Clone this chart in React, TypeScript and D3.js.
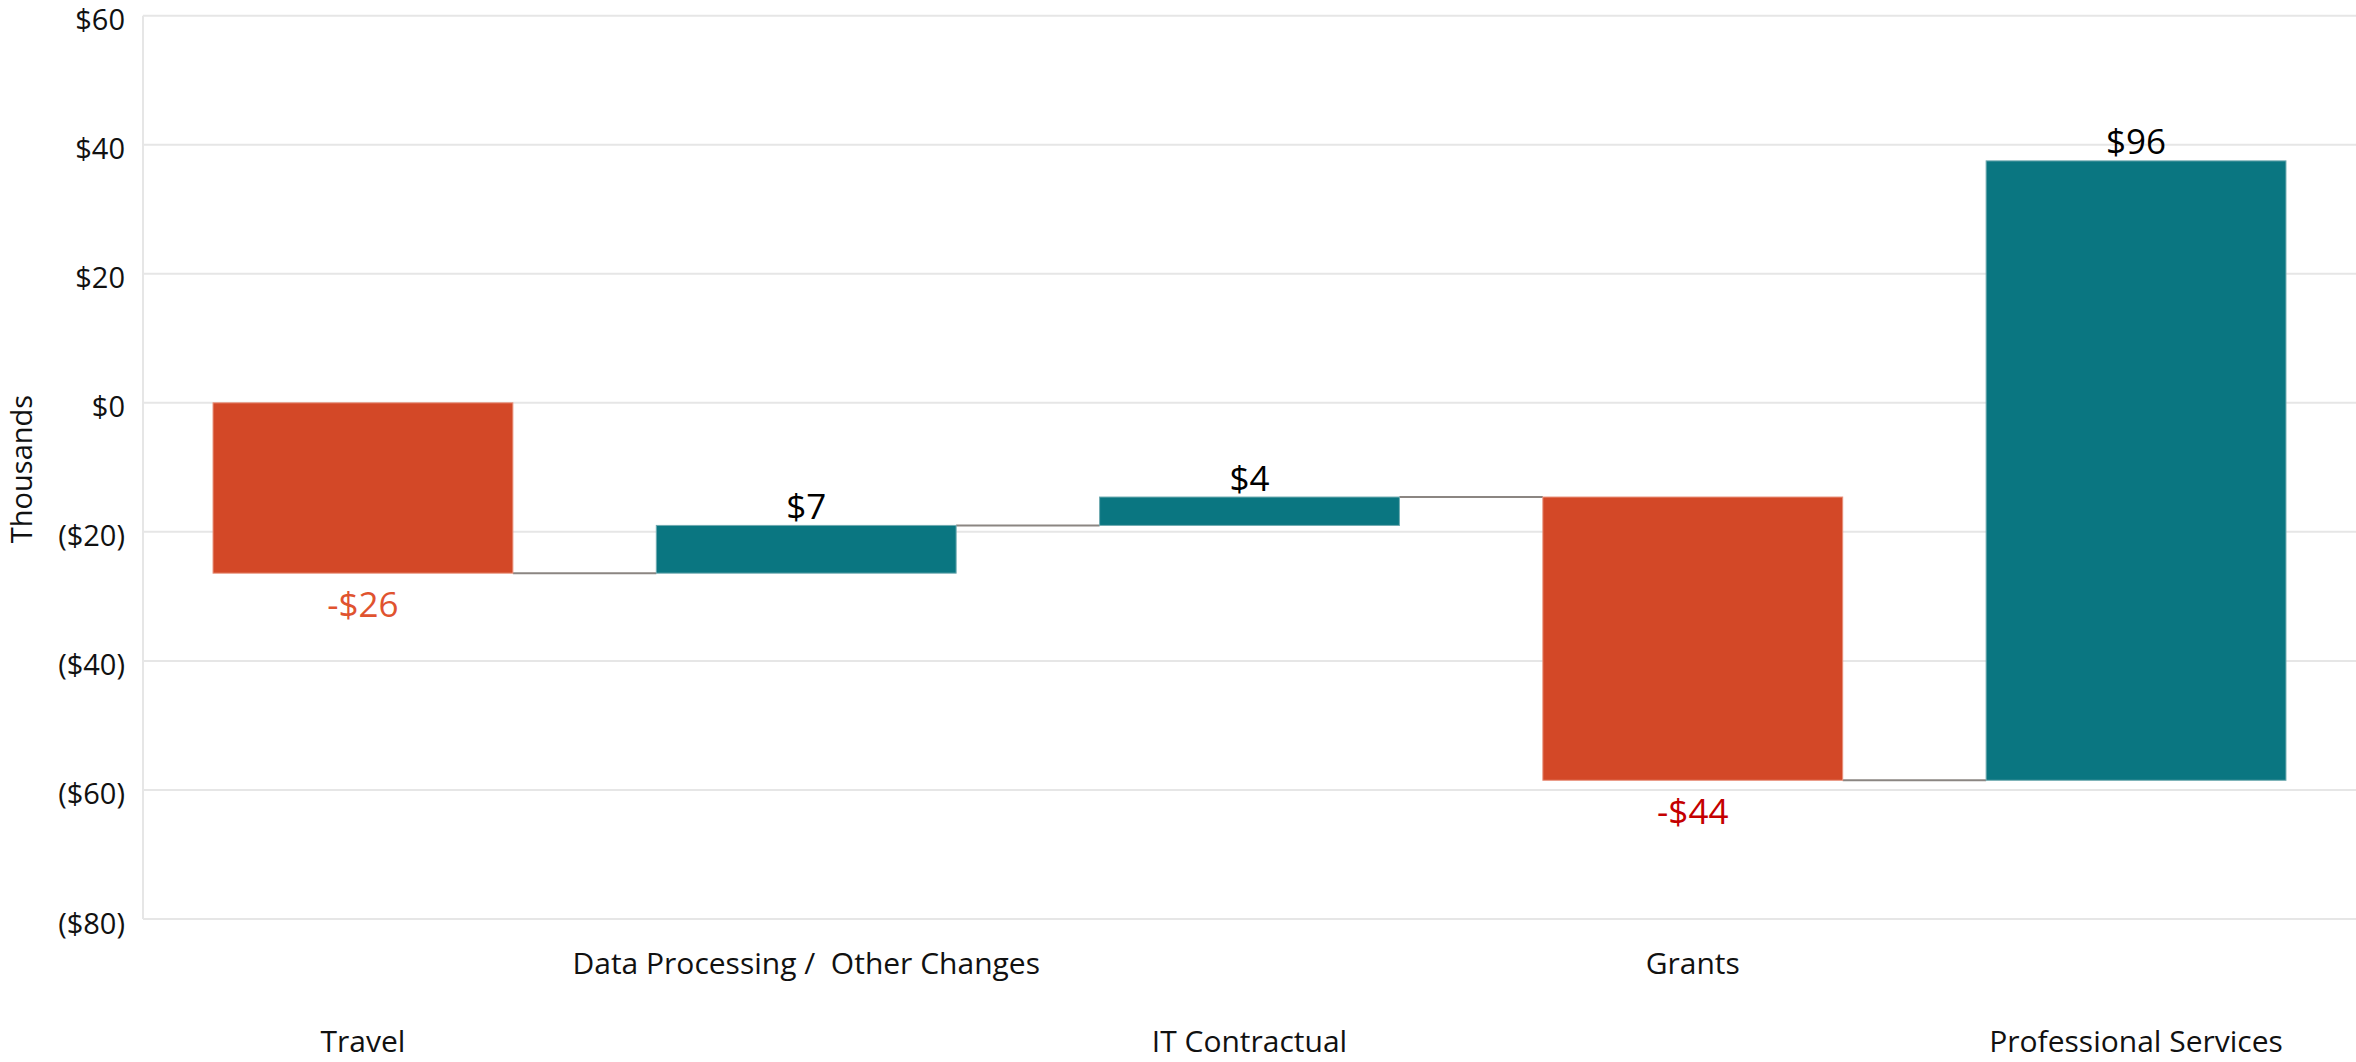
import React from "react";
import * as d3 from "d3";

const categories = [
  "Travel",
  "Data Processing /  Other Changes",
  "IT Contractual",
  "Grants",
  "Professional Services",
];
const changes = [-26.4, 7.4, 4.4, -43.9, 96.0];
const valueLabels = ["-$26", "$7", "$4", "-$44", "$96"];
const yTicks = [60, 40, 20, 0, -20, -40, -60, -80];
const axisTitle = "Thousands";

const W = 2356;
const H = 1062;
const FONT = "'Open Sans', 'Noto Sans', sans-serif";

export default function App() {
  const plotLeft = 143;
  const plotRight = 2356;
  const plotTop = 15.7;
  const plotBottom = 919;

  const x = d3
    .scaleBand<string>()
    .domain(categories)
    .range([plotLeft, plotRight])
    .paddingInner(0.3236)
    .paddingOuter(0.158);

  const y = d3.scaleLinear().domain([-80, 60]).range([plotBottom, plotTop]);

  // cumulative waterfall
  let run = 0;
  const bars = changes.map((c, i) => {
    const start = run;
    const end = run + c;
    run = end;
    return { cat: categories[i], start, end, change: c, label: valueLabels[i] };
  });

  const fmt = (v: number) => (v >= 0 ? `$${v}` : `($${-v})`);
  const negColors = ["#E0532F", "#E0532F", "#E0532F", "#C40000", "#C40000"];
  const colorUp = "#0A7681";
  const colorDown = "#D34827";

  return (
    <svg
      width={W}
      height={H}
      style={{ position: "absolute", left: 0, top: 0, display: "block", background: "#fff" }}
      fontFamily={FONT}
    >
      {/* gridlines */}
      {yTicks.map((t) => (
        <line
          key={t}
          x1={plotLeft}
          x2={plotRight}
          y1={y(t)}
          y2={y(t)}
          stroke="#E6E6E6"
          strokeWidth={2}
        />
      ))}
      <line x1={plotLeft} x2={plotLeft} y1={plotTop} y2={plotBottom} stroke="#E6E6E6" strokeWidth={2} />

      {/* tick labels */}
      {yTicks.map((t) => (
        <text
          key={"l" + t}
          x={125}
          y={y(t) + 3}
          textAnchor="end"
          dominantBaseline="central"
          fontSize={29}
          fill="#111"
        >
          {fmt(t)}
        </text>
      ))}

      <text
        transform={`translate(20, 469) rotate(-90)`}
        textAnchor="middle"
        dominantBaseline="central"
        fontSize={29}
        fill="#111"
      >
        {axisTitle}
      </text>

      {/* connectors */}
      {bars.slice(0, -1).map((b, i) => (
        <line
          key={"c" + i}
          x1={(x(b.cat) as number) + x.bandwidth()}
          x2={x(bars[i + 1].cat) as number}
          y1={y(b.end)}
          y2={y(b.end)}
          stroke="#8B8682"
          strokeWidth={2}
        />
      ))}

      {/* bars */}
      {bars.map((b, i) => {
        const top = y(Math.max(b.start, b.end));
        const bot = y(Math.min(b.start, b.end));
        return (
          <rect
            key={"b" + i}
            x={x(b.cat)}
            y={top}
            width={x.bandwidth()}
            height={bot - top}
            fill={b.change >= 0 ? colorUp : colorDown}
            stroke={b.change >= 0 ? "#6FAAB0" : "#E8907A"}
            strokeWidth={1}
          />
        );
      })}

      {/* value labels */}
      {bars.map((b, i) => {
        const cx = (x(b.cat) as number) + x.bandwidth() / 2;
        const up = b.change >= 0;
        const yy = up ? y(b.end) - 20 : y(b.end) + 30;
        return (
          <text
            key={"v" + i}
            x={cx}
            y={yy}
            textAnchor="middle"
            dominantBaseline="central"
            fontSize={35}
            fill={up ? "#000" : negColors[i]}
          >
            {b.label}
          </text>
        );
      })}

      {/* category labels, staggered */}
      {categories.map((c, i) => (
        <text
          key={"x" + i}
          x={(x(c) as number) + x.bandwidth() / 2}
          y={i % 2 === 1 ? 962 : 1040}
          textAnchor="middle"
          dominantBaseline="central"
          fontSize={30}
          fill="#111"
          style={{ whiteSpace: "pre" }}
        >
          {c}
        </text>
      ))}
    </svg>
  );
}
